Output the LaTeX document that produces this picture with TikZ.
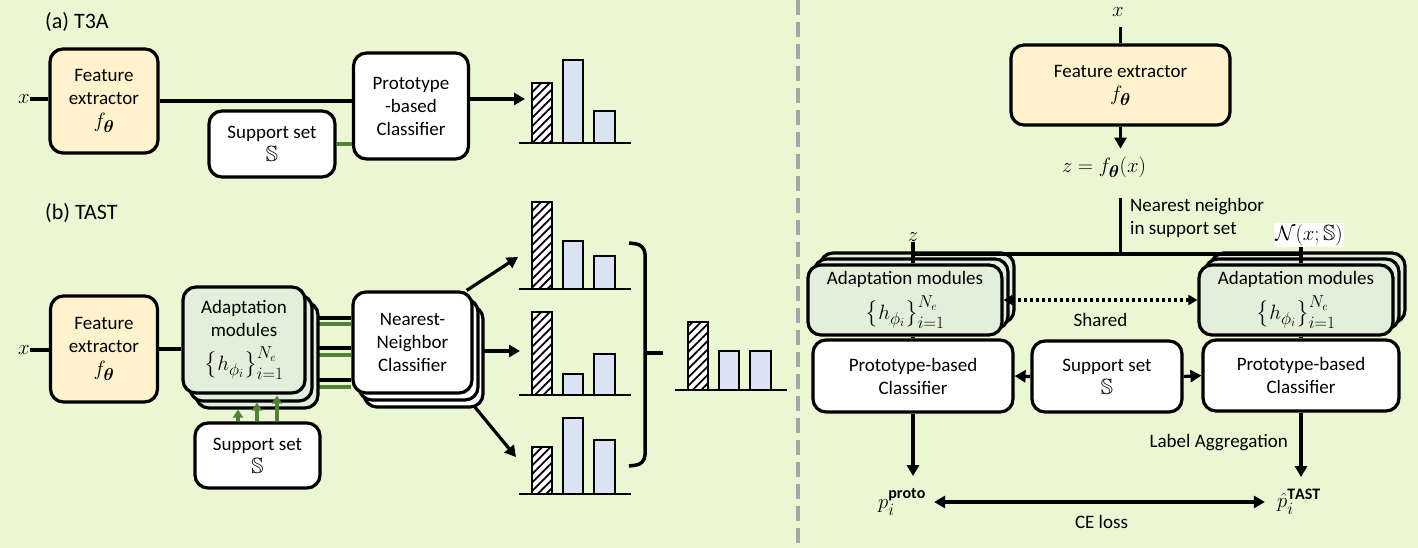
\documentclass[tikz,border=0pt]{standalone}
\usepackage{amsmath,amssymb}
\usepackage{fontspec}
\setmainfont{Carlito}
\DeclareMathSizes{19}{22}{16}{13}
\usetikzlibrary{positioning, shapes, arrows.meta, shadows, patterns.meta, decorations.pathreplacing, backgrounds}

\definecolor{bgcol}{RGB}{235,247,211}
\definecolor{featfill}{RGB}{255,242,204}
\definecolor{adaptfill}{RGB}{226,239,218}
\definecolor{barfill}{RGB}{218,227,243}
\definecolor{suppgreen}{RGB}{84,130,53}
\definecolor{divgray}{RGB}{166,166,166}

\tikzset{
  blockbox/.style={rectangle, draw, line width=3.2pt, rounded corners=13pt, fill=white, align=center, inner sep=0pt},
  featbox/.style={blockbox, fill=featfill},
  adaptbox/.style={blockbox, fill=adaptfill},
  lbl/.style={inner sep=0pt},
  conn/.style={line width=3.2pt},
  arr/.style={line width=3.2pt, -{Triangle[length=11pt,width=12pt]}},
  greenline/.style={line width=4pt, suppgreen},
  greenarr/.style={line width=4.5pt, suppgreen, -{Triangle[length=8pt,width=10pt]}},
}

\begin{document}
\begin{tikzpicture}[x=1pt, y=-1pt, font=\fontsize{19}{23}\selectfont]
\useasboundingbox (0,0) rectangle (1418,548);
\begin{scope}[on background layer]
  \fill[bgcol] (0,0) rectangle (1418,548);
\end{scope}

% (a) T3A
\node[lbl, anchor=west, font=\fontsize{22}{26}\selectfont] (titleA) at (45,22) {(a) T3A};
\node[lbl] (xA) at (24,99) {$x$};
\node[featbox, minimum width=108pt, minimum height=104pt] (featA) at (104,101) {Feature\\extractor\\$f_{\boldsymbol{\theta}}$};
\node[blockbox, minimum width=115pt, minimum height=106pt] (protoA) at (411,106) {Prototype\\-based\\Classifier};
\node[blockbox, minimum width=126pt, minimum height=66pt] (suppA) at (272,144) {Support set\\$\mathbb{S}$};
\coordinate (tipA) at (525,99);

\draw[conn] (xA.east) -- (xA.east -| featA.west);
\draw[conn] (featA.east) -- (featA.east -| protoA.west);
\draw[greenline] (suppA.east) -- (suppA.east -| protoA.west);
\draw[arr] (protoA.east |- tipA) -- (tipA);

% (b) TAST
\node[lbl, anchor=west, font=\fontsize{22}{26}\selectfont] (titleB) at (45,213) {(b) TAST};
\node[lbl] (xB) at (24,350) {$x$};
\node[featbox, minimum width=107pt, minimum height=106pt] (featB) at (104,349) {Feature\\extractor\\$f_{\boldsymbol{\theta}}$};
\node[adaptbox, minimum width=122pt, minimum height=106pt,
      copy shadow={shadow xshift=13pt, shadow yshift=-15pt, fill=adaptfill, draw=black},
      copy shadow={shadow xshift=7pt, shadow yshift=-8pt, fill=adaptfill, draw=black}]
      (adaptB) at (244,340) {Adaptation\\modules\\[9pt]$\big\{h_{\phi_i}\big\}_{i=1}^{N_e}$};
\node[blockbox, minimum width=119pt, minimum height=101pt,
      copy shadow={shadow xshift=11pt, shadow yshift=-14pt, fill=white, draw=black},
      copy shadow={shadow xshift=6pt, shadow yshift=-7pt, fill=white, draw=black}]
      (nnB) at (412.5,342.5) {Nearest-\\Neighbor\\Classifier};
\node[blockbox, minimum width=125pt, minimum height=65pt] (suppB) at (257.5,455.5) {Support set\\$\mathbb{S}$};
\coordinate (tipB1) at (518,257);
\coordinate (tipB2) at (520,351);
\coordinate (tipB3) at (516,457);

\draw[conn] (xB.east) -- (xB.east -| featB.west);
\draw[conn] (featB.east) -- (featB.east -| adaptB.west);
\draw[greenarr] ([xshift=-19.5pt]suppB.north) -- ([xshift=-6pt,yshift=-15pt]adaptB.south);
\draw[greenarr] ([xshift=-0.5pt]suppB.north) -- ([xshift=13pt,yshift=-8pt]adaptB.south);
\draw[greenarr] ([xshift=19.5pt]suppB.north) -- ([xshift=33pt,yshift=-1pt]adaptB.south);

\begin{scope}[on background layer]
  \foreach \dy in {22,-8,-40}
    \draw[conn] ([yshift=\dy pt]adaptB.east) -- ([yshift=\dy pt]adaptB.east -| nnB.west);
  \foreach \dy in {16,-15,-47}
    \draw[greenline] ([yshift=\dy pt]adaptB.east) -- ([yshift=\dy pt]adaptB.east -| nnB.west);
  \draw[arr] ([xshift=-7pt]nnB.north east) -- (tipB1);
  \draw[arr] (nnB.east |- tipB2) -- (tipB2);
  \draw[arr] ([xshift=-9pt]nnB.south east) -- (tipB3);
\end{scope}

% bar charts
\foreach \bx/\by/\ha/\hb/\hc in {519/143/60/83/32, 519/289/87/48/33, 519/395/83/21/41, 519/494/47/76/54, 675/390/68/39/39}{
  \draw[line width=1.2pt, preaction={fill=white}, pattern={Lines[angle=45,distance=6pt,line width=1.8pt]}] (\bx+13,\by) rectangle (\bx+33,\by-\ha);
  \draw[line width=1.2pt, fill=barfill] (\bx+44,\by) rectangle (\bx+64,\by-\hb);
  \draw[line width=1.2pt, fill=barfill] (\bx+75,\by) rectangle (\bx+96,\by-\hc);
  \draw[line width=1.5pt] (\bx,\by) -- (\bx+112,\by);
}
% brace
\draw[line width=3.5pt, rounded corners=9pt] (629,243) -- (645,245) -- (645,464) -- (629,466);
\draw[line width=3.5pt] (645,353) -- (663,353);

% divider
\draw[divgray, line width=4.5pt, dash pattern=on 15pt off 7pt] (798,0) -- (798,548);

% right: training objective
\node[lbl] (xR) at (1118,12) {$x$};
\node[featbox, minimum width=219pt, minimum height=80pt] (featR) at (1120.5,85) {Feature extractor\\$f_{\boldsymbol{\theta}}$};
\node[lbl] (zR) at (1104,167) {$z=f_{\boldsymbol{\theta}}(x)$};
\node[lbl, anchor=west, align=left] (nnLbl) at (1130,218) {Nearest neighbor\\in support set};
\node[lbl] (zL) at (913,237) {$z$};
\node[lbl, fill=white, inner sep=1.5pt] (nxR) at (1309,235) {$\mathcal{N}(x;\mathbb{S})$};
\coordinate (hubL) at (913,254);
\coordinate (hub) at (1120.5,254);
\coordinate (hubR) at (1301,254);

\node[adaptbox, minimum width=194pt, minimum height=70pt,
      copy shadow={shadow xshift=12pt, shadow yshift=12pt, fill=adaptfill, draw=black},
      copy shadow={shadow xshift=6pt, shadow yshift=6pt, fill=adaptfill, draw=black}]
      (adaptL) at (905,300) {Adaptation modules\\[7pt]$\big\{h_{\phi_i}\big\}_{i=1}^{N_e}$};
\node[adaptbox, minimum width=194pt, minimum height=70pt,
      copy shadow={shadow xshift=12pt, shadow yshift=12pt, fill=adaptfill, draw=black},
      copy shadow={shadow xshift=6pt, shadow yshift=6pt, fill=adaptfill, draw=black}]
      (adaptR) at (1296,300) {Adaptation modules\\[7pt]$\big\{h_{\phi_i}\big\}_{i=1}^{N_e}$};
\node[blockbox, minimum width=200pt, minimum height=72pt] (protoL) at (913,376) {Prototype-based\\Classifier};
\node[blockbox, minimum width=150pt, minimum height=71pt] (suppR) at (1107,376.5) {Support set\\$\mathbb{S}$};
\node[blockbox, minimum width=196pt, minimum height=71pt] (protoR) at (1301,375.5) {Prototype-based\\Classifier};
\node[lbl, anchor=east] (aggLbl) at (1288,443) {Label Aggregation};
\node[lbl] (pProto) at (902,502) {$p_i^{\mathbf{proto}}$};
\node[lbl] (pTast) at (1299,502) {$\hat{p}_i^{\mathbf{TAST}}$};

\draw[conn, shorten <=10pt] (xR.south -| featR.north) -- (featR.north);
\draw[arr] (featR.south) -- ++(0,22);
\draw[conn, shorten <=20pt] (zR.south -| featR.south) -- (hub);
\draw[conn] (hubL) -- (hubR);
\draw[conn] (zL.south) -- (zL.south |- adaptL.north);
\draw[conn] (nxR.south -| hubR) -- (hubR |- adaptR.north);
\draw[line width=3.2pt, dash pattern=on 3pt off 3pt, {Triangle[length=9pt,width=10pt]}-{Triangle[length=9pt,width=10pt]}] (adaptL.east) -- node[below=8pt] {Shared} (adaptR.west);
\draw[conn] (adaptL.south -| protoL.north) -- (protoL.north);
\draw[conn] (adaptR.south -| protoR.north) -- (protoR.north);
\draw[arr] (suppR.west) -- (protoL.east);
\draw[arr] (suppR.east) -- (protoR.west);
\draw[arr, shorten >=12pt] (protoL.south) -- (protoL.south |- pProto.north);
\draw[arr, shorten >=12pt] (protoR.south) -- (protoR.south |- pTast.north);
\draw[line width=3.2pt, {Triangle[length=11pt,width=12pt]}-{Triangle[length=11pt,width=12pt]}, shorten <=8pt, shorten >=12pt] (pProto.east) -- node[below=8pt] {CE loss} (pTast.west);
\end{tikzpicture}
\end{document}
